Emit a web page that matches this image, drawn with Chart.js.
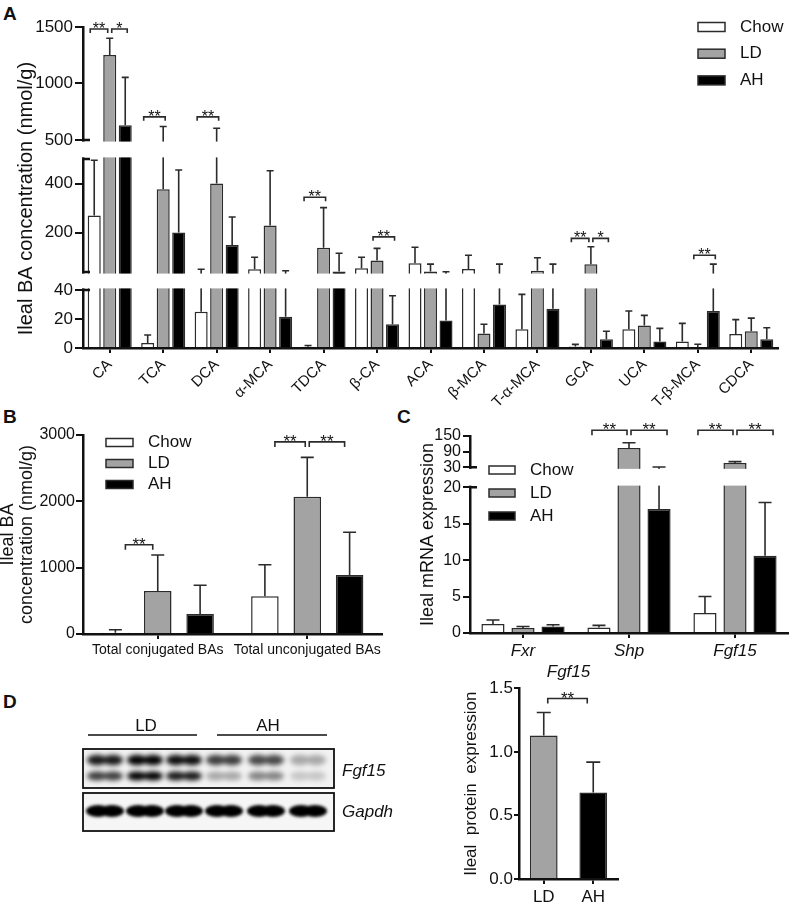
<!DOCTYPE html>
<html>
<head>
<meta charset="utf-8">
<script src="https://cdn.jsdelivr.net/npm/chart.js@4.4.1/dist/chart.umd.min.js"></script>
<style>
  body { margin: 0; background: #fff; width: 796px; height: 904px; position: relative; overflow: hidden;
         font-family: "Liberation Sans", Arial, Helvetica, sans-serif; }
  canvas { position: absolute; }
  .panel { position: absolute; font-weight: bold; font-size: 19px; line-height: 1; color: #111; }
</style>
</head>
<body>
<div class="panel" style="left:3px;top:4px">A</div>
<div class="panel" style="left:3px;top:407px">B</div>
<div class="panel" style="left:397px;top:407px">C</div>
<div class="panel" style="left:3px;top:692px">D</div>

<canvas id="chartA" width="796" height="414" style="left:0;top:0"></canvas>
<canvas id="chartB" width="390" height="255" style="left:0;top:410px"></canvas>
<canvas id="chartC" width="406" height="262" style="left:390px;top:408px"></canvas>
<canvas id="blotD" width="440" height="150" style="left:0;top:700px"></canvas>
<canvas id="chartD" width="200" height="249" style="left:440px;top:655px"></canvas>

<script>
// ---- panel A: ileal bile acids (nmol/g) ----
const bileAcids = ["CA", "TCA", "DCA", "α-MCA", "TDCA", "β-CA", "ACA", "β-MCA", "T-α-MCA", "GCA", "UCA", "T-β-MCA", "CDCA"];
const chowA    = [270, 3.5, 25, 51, 0.8, 55, 76, 52, 13, 1, 13, 4.5, 9.6];
const chowErrA = [495, 9, 51, 100, 1.7, 100, 141, 108, 37, 2.5, 25.5, 17, 19.6];
const ldA      = [1253, 377, 400, 229, 139, 87, 42, 10, 45, 72, 15.5, 0.6, 11.5];
const ldErrA   = [1400, 619, 604, 452, 302, 136, 72, 16.4, 98, 143, 22.5, 2.6, 20.6];
const ahA      = [631, 201, 150, 21.5, 42, 16.4, 19, 30, 27, 6, 4.5, 25.5, 6];
const ahErrA   = [1054, 455, 264, 45, 116, 36, 41, 72, 72, 11.5, 13.5, 72, 14];
const ticksA   = [0, 20, 40, 200, 400, 500, 1000, 1500];
// [category, dataset, category, dataset, level, label]
const sigA = [[0, 0, 0, 1, 1482, "**"], [0, 1, 0, 2, 1482, "*"], [1, 0, 1, 1, 705, "**"], [2, 0, 2, 1, 705, "**"],
              [4, 0, 4, 1, 344, "**"], [5, 1, 5, 2, 183, "**"], [9, 0, 9, 1, 177, "**"], [9, 1, 9, 2, 177, "*"],
              [11, 1, 11, 2, 108, "**"]];

// ---- panel B: totals ----
const totalsB   = ["Total conjugated BAs", "Total unconjugated BAs"];
const chowB     = [20, 570];
const chowErrB  = [65, 1045];
const ldB       = [648, 2069];
const ldErrB    = [1192, 2662];
const ahB       = [302, 890];
const ahErrB    = [735, 1535];
const sigB = [[0, 0, 0, 1, 1346, "**"], [1, 0, 1, 1, 2896, "**"], [1, 1, 1, 2, 2896, "**"]];

// ---- panel C: mRNA ----
const genesC    = ["Fxr", "Shp", "Fgf15"];
const chowC     = [1.23, 0.77, 2.74];
const chowErrC  = [1.78, 1.04, 5.0];
const ldC       = [0.68, 104, 46.5];
const ldErrC    = [0.9, 124, 51.5];
const ahC       = [0.9, 17, 10.6];
const ahErrC    = [1.14, 31, 17.9];
const ticksC    = [0, 5, 10, 15, 20, 30, 90, 150];
const sigC = [[1, 0, 1, 1, 172, "**"], [1, 1, 1, 2, 172, "**"], [2, 0, 2, 1, 172, "**"], [2, 1, 2, 2, 172, "**"]];

// ---- panel D: protein ----
const groupsD     = ["LD", "AH"];
const proteinD    = [1.13, 0.68];
const proteinErrD = [1.31, 0.92];
const sigD = [[0, 0, 1, 0, 1.42, "**"]];
// blot band intensities, lanes LD1-3, AH1-3
const bandUpper = [0.9, 1.0, 0.95, 0.75, 0.7, 0.3];
const bandLower = [0.75, 1.0, 0.9, 0.3, 0.45, 0.18];
const gapdhBand = [1, 1, 1, 1, 1, 1];

const FONT = '"Liberation Sans", Arial, Helvetica, sans-serif';
Chart.defaults.font.family = FONT;
Chart.defaults.color = "#111";

const INK = "#2b2b2b";
const GREY = "#a3a3a3";

// linear axis broken into pieces (fractions of axis height)
class BrokenScale extends Chart.LinearScale {
  buildTicks() {
    return this.options.tickValues.map(v => ({ value: v }));
  }
  segmentFor(v) {
    const segs = this.options.segments;
    for (let k = 0; k < segs.length; k++) {
      const s = segs[k];
      if (v < s.to || (v === s.to && !s.openTop)) return s;
    }
    return segs[segs.length - 1];
  }
  getPixelForValue(v) {
    if (v === null || v === undefined) return NaN;
    const s = this.segmentFor(v);
    return this.getPixelForDecimal(s.start + (v - s.from) / (s.to - s.from) * (s.end - s.start));
  }
  getValueForPixel(p) {
    const dec = this.getDecimalForPixel(p);
    const segs = this.options.segments;
    let s = segs[0];
    for (let k = 0; k < segs.length; k++) if (dec >= segs[k].start) s = segs[k];
    return s.from + (dec - s.start) / (s.end - s.start) * (s.to - s.from);
  }
}
BrokenScale.id = "broken";
BrokenScale.defaults = {};
Chart.register(BrokenScale);

const segmentsA = [
  { from: 0, to: 40, start: 0, end: 0.1807 },
  { from: 40, to: 500, start: 0.2368, end: 0.5888, openTop: true },
  { from: 500, to: 1500, start: 0.648, end: 1 }
];
const segmentsC = [
  { from: 0, to: 20, start: 0, end: 0.74 },
  { from: 30, to: 150, start: 0.8413, end: 1 }
];

// per-chart decoration settings
const decor = {
  chartA: { cap: 7, d1: -4, d2: 2, leg: 4, star: 16, legend: { x: 698, y: 27, dy: 26.7, w: 27, h: 9, tx: 42 } },
  chartB: { cap: 13, d1: 10, d2: -5, leg: 5, star: 17, legend: { x: 106, y: 32.5, dy: 21, w: 27, h: 8, tx: 42 } },
  chartC: { cap: 13, d1: -7, d2: 8, leg: 5, star: 17, legend: { x: 99, y: 62, dy: 23, w: 26, h: 8, tx: 41 } },
  chartD: { cap: 14, d1: 4, d2: -6, leg: 5, star: 17 }
};
const sigs = { chartA: sigA, chartB: sigB, chartC: sigC, chartD: sigD };

const barDecor = {
  id: "barDecor",
  afterDatasetsDraw(chart) {
    const cfg = decor[chart.canvas.id];
    const ctx = chart.ctx;
    const y = chart.scales.y;
    const area = chart.chartArea;
    ctx.save();
    ctx.strokeStyle = INK;
    ctx.lineWidth = 1.6;
    chart.data.datasets.forEach((ds, d) => {
      chart.getDatasetMeta(d).data.forEach((bar, i) => {
        const err = ds.errors[i];
        if (err == null) return;
        const y0 = y.getPixelForValue(ds.data[i]);
        const y1 = y.getPixelForValue(err);
        ctx.beginPath();
        ctx.moveTo(bar.x, y0);
        ctx.lineTo(bar.x, y1);
        ctx.moveTo(bar.x - cfg.cap / 2, y1);
        ctx.lineTo(bar.x + cfg.cap / 2, y1);
        ctx.stroke();
      });
    });
    // white gaps of the broken axis
    const segs = y.options.segments;
    if (segs) {
      for (let k = 0; k < segs.length - 1; k++) {
        const lo = y.getPixelForDecimal(segs[k].end);
        const hi = y.getPixelForDecimal(segs[k + 1].start);
        ctx.fillStyle = "#fff";
        ctx.fillRect(area.left - 3, hi + 1.6, area.right - area.left + 6, lo - hi - 3.2);
        ctx.strokeStyle = "#111";
        ctx.lineWidth = 2.4;
        ctx.beginPath();
        ctx.moveTo(area.left - 1, lo); ctx.lineTo(area.left + 7, lo);
        ctx.moveTo(area.left - 1, hi); ctx.lineTo(area.left + 7, hi);
        ctx.stroke();
      }
    }
    ctx.restore();
  },
  afterDraw(chart) {
    const id = chart.canvas.id;
    const cfg = decor[id];
    const ctx = chart.ctx;
    const y = chart.scales.y;
    const list = sigs[id] || [];
    ctx.save();
    ctx.strokeStyle = INK;
    ctx.fillStyle = "#111";
    ctx.lineWidth = 1.6;
    ctx.font = cfg.star + "px " + FONT;
    ctx.textAlign = "center";
    ctx.textBaseline = "alphabetic";
    list.forEach(([ca, da, cb, db, level, label]) => {
      const xa = chart.getDatasetMeta(da).data[ca].x;
      const xb = chart.getDatasetMeta(db).data[cb].x;
      const endsHere = list.some(o => o[2] === ca && o[3] === da);
      const startsHere = list.some(o => o[0] === cb && o[1] === db);
      const x1 = endsHere ? xa + 2 : xa + cfg.d1;
      const x2 = startsHere ? xb - 2 : xb + cfg.d2;
      const yy = y.getPixelForValue(level);
      ctx.beginPath();
      ctx.moveTo(x1, yy + cfg.leg);
      ctx.lineTo(x1, yy);
      ctx.lineTo(x2, yy);
      ctx.lineTo(x2, yy + cfg.leg);
      ctx.stroke();
      ctx.fillText(label, (x1 + x2) / 2, yy + 5);
    });
    if (cfg.legend) {
      const L = cfg.legend;
      ctx.font = "17px " + FONT;
      ctx.textAlign = "left";
      ctx.textBaseline = "middle";
      chart.data.datasets.forEach((ds, k) => {
        const cy = L.y + k * L.dy;
        ctx.fillStyle = ds.backgroundColor;
        ctx.fillRect(L.x, cy - L.h / 2, L.w, L.h);
        ctx.lineWidth = 1.5;
        ctx.strokeStyle = INK;
        ctx.strokeRect(L.x, cy - L.h / 2, L.w, L.h);
        ctx.fillStyle = "#111";
        ctx.fillText(ds.label, L.x + L.tx, cy);
      });
    }
    ctx.restore();
  }
};

function series(label, data, errors, color, catPct, barPct) {
  return {
    label: label, data: data, errors: errors,
    backgroundColor: color, borderColor: INK, borderWidth: 1.5,
    categoryPercentage: catPct, barPercentage: barPct
  };
}

function xAxis(fontSpec, height, rotation) {
  return {
    grid: { offset: false, drawOnChartArea: false, tickLength: 5, lineWidth: 2, color: "#111" },
    border: { color: "#111", width: 2.5 },
    ticks: { font: fontSpec, color: "#111", autoSkip: false, padding: 3,
             minRotation: rotation || 0, maxRotation: rotation || 0 },
    afterFit(s) { s.height = height; }
  };
}

function yGrid(len) {
  return { drawOnChartArea: false, tickLength: len, lineWidth: 2, color: "#111" };
}

const common = {
  responsive: false,
  animation: false,
  events: [],
  plugins: { legend: { display: false }, tooltip: { enabled: false } }
};

new Chart(document.getElementById("chartA"), {
  type: "bar",
  data: {
    labels: bileAcids,
    datasets: [
      series("Chow", chowA, chowErrA, "#ffffff", 0.87, 0.84),
      series("LD", ldA, ldErrA, GREY, 0.87, 0.84),
      series("AH", ahA, ahErrA, "#000000", 0.87, 0.84)
    ]
  },
  options: Object.assign({}, common, {
    layout: { padding: { top: 27, right: 18, left: 0, bottom: 0 } },
    scales: {
      x: xAxis({ size: 15 }, 66, 45),
      y: {
        type: "broken", min: 0, max: 1500, segments: segmentsA, tickValues: ticksA,
        ticks: { autoSkip: false, font: { size: 17 }, padding: 2, callback: v => String(v) },
        grid: yGrid(8),
        border: { color: "#111", width: 2.5 },
        // trailing spaces push the rotated text a little down, as in the figure
        title: { display: true, text: "Ileal BA concentration (nmol/g)    ", font: { size: 20 }, padding: { top: 14, bottom: 0 } },
        afterFit(s) { s.width = 83; }
      }
    }
  }),
  plugins: [barDecor]
});

new Chart(document.getElementById("chartB"), {
  type: "bar",
  data: {
    labels: totalsB,
    datasets: [
      series("Chow", chowB, chowErrB, "#ffffff", 0.85, 0.65),
      series("LD", ldB, ldErrB, GREY, 0.85, 0.65),
      series("AH", ahB, ahErrB, "#000000", 0.85, 0.65)
    ]
  },
  options: Object.assign({}, common, {
    layout: { padding: { top: 25, right: 8, left: 0, bottom: 0 } },
    scales: {
      x: xAxis({ size: 14 }, 31),
      y: {
        min: 0, max: 3000,
        ticks: { stepSize: 1000, font: { size: 16 }, padding: 1, callback: v => String(v) },
        grid: yGrid(7),
        border: { color: "#111", width: 2.5 },
        title: { display: true, text: ["Ileal BA", "concentration (nmol/g)"], font: { size: 18, lineHeight: 1.05 }, padding: { top: -1, bottom: 0 } },
        afterFit(s) { s.width = 83; }
      }
    }
  }),
  plugins: [barDecor]
});

new Chart(document.getElementById("chartC"), {
  type: "bar",
  data: {
    labels: genesC,
    datasets: [
      series("Chow", chowC, chowErrC, "#ffffff", 0.85, 0.77),
      series("LD", ldC, ldErrC, GREY, 0.85, 0.77),
      series("AH", ahC, ahErrC, "#000000", 0.85, 0.77)
    ]
  },
  options: Object.assign({}, common, {
    layout: { padding: { top: 28, right: 8, left: 0, bottom: 0 } },
    scales: {
      x: xAxis({ size: 17, style: "italic" }, 37),
      y: {
        type: "broken", min: 0, max: 150, segments: segmentsC, tickValues: ticksC,
        ticks: { autoSkip: false, font: { size: 16 }, padding: 2, callback: v => String(v) },
        grid: yGrid(7),
        border: { color: "#111", width: 2.5 },
        title: { display: true, text: "Ileal mRNA expression", font: { size: 18 }, padding: { top: 27, bottom: 0 } },
        afterFit(s) { s.width = 80; }
      }
    }
  }),
  plugins: [barDecor]
});

new Chart(document.getElementById("chartD"), {
  type: "bar",
  data: {
    labels: groupsD,
    datasets: [{
      label: "Fgf15", data: proteinD, errors: proteinErrD,
      backgroundColor: [GREY, "#000000"], borderColor: INK, borderWidth: 1.5,
      categoryPercentage: 0.8, barPercentage: 0.7
    }]
  },
  options: Object.assign({}, common, {
    layout: { padding: { top: 0, right: 22, left: 0, bottom: 0 } },
    plugins: {
      legend: { display: false }, tooltip: { enabled: false },
      title: { display: true, text: "Fgf15", fullSize: false, color: "#111",
               font: { size: 17, style: "italic", weight: "normal" }, padding: { top: 7, bottom: 6 } }
    },
    scales: {
      x: xAxis({ size: 17 }, 25),
      y: {
        min: 0, max: 1.5,
        ticks: { stepSize: 0.5, font: { size: 17 }, padding: 1, callback: v => v.toFixed(1) },
        grid: yGrid(5),
        border: { color: "#111", width: 2.5 },
        title: { display: true, text: "Ileal  protein  expression", font: { size: 17 }, padding: { top: 21, bottom: 0 } },
        afterFit(s) { s.width = 79; }
      }
    }
  }),
  plugins: [barDecor]
});

// western blot picture for panel D
(function drawBlot() {
  const ctx = document.getElementById("blotD").getContext("2d");
  const laneX = [105, 145, 184, 224, 266, 308];
  ctx.fillStyle = "#111";
  ctx.font = "17px " + FONT;
  ctx.textAlign = "center";
  ctx.textBaseline = "middle";
  ctx.fillText("LD", 146, 26);
  ctx.fillText("AH", 268, 26);
  ctx.strokeStyle = "#111";
  ctx.lineWidth = 1.6;
  ctx.beginPath();
  ctx.moveTo(88, 35); ctx.lineTo(197, 35);
  ctx.moveTo(217, 35); ctx.lineTo(327, 35);
  ctx.stroke();

  function lobes(x, y, a, rx, ry, gap) {
    ctx.fillStyle = "rgba(0,0,0," + a + ")";
    ctx.beginPath();
    ctx.ellipse(x - gap, y, rx, ry, 0, 0, Math.PI * 2);
    ctx.ellipse(x + gap, y, rx, ry, 0, 0, Math.PI * 2);
    ctx.fill();
  }

  ctx.save();
  ctx.beginPath(); ctx.rect(84, 50, 249, 37); ctx.clip();
  ctx.fillStyle = "#f2f2f2"; ctx.fillRect(84, 50, 249, 37);
  ctx.filter = "blur(2.4px)";
  laneX.forEach((x, i) => {
    lobes(x, 60, bandUpper[i], 10, 5.2, 8);
    lobes(x, 76, bandLower[i], 10, 4.6, 8);
  });
  ctx.restore();

  ctx.save();
  ctx.beginPath(); ctx.rect(84, 94, 249, 36); ctx.clip();
  ctx.fillStyle = "#f6f6f6"; ctx.fillRect(84, 94, 249, 36);
  ctx.filter = "blur(1.4px)";
  laneX.forEach((x, i) => {
    lobes(x, 111, gapdhBand[i], 12, 6, 7);
  });
  ctx.restore();

  ctx.strokeStyle = "#111";
  ctx.lineWidth = 1.8;
  ctx.strokeRect(83, 49, 251, 39);
  ctx.strokeRect(83, 93, 251, 38);

  ctx.fillStyle = "#111";
  ctx.font = "italic 17px " + FONT;
  ctx.textAlign = "left";
  ctx.fillText("Fgf15", 342, 71);
  ctx.fillText("Gapdh", 342, 112);
})();
</script>
</body>
</html>
